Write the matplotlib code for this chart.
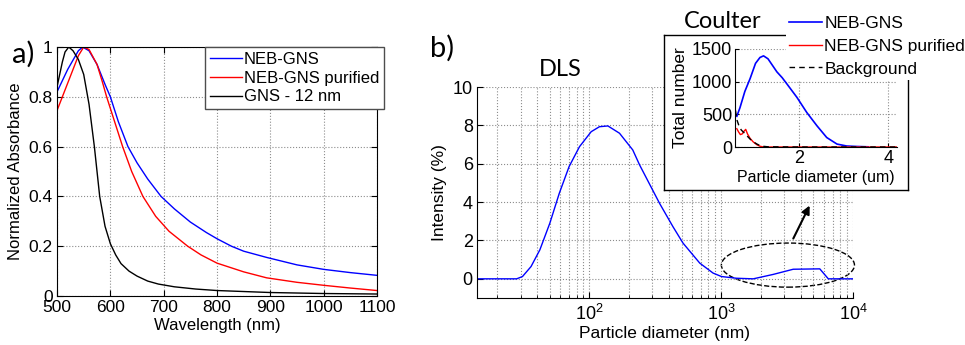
import numpy as np
import matplotlib
matplotlib.use('Agg')
import matplotlib.pyplot as plt
from matplotlib.patches import Ellipse

plt.rcParams['font.family'] = ['Liberation Sans', 'DejaVu Sans']
plt.rcParams['mathtext.fontset'] = 'custom'
plt.rcParams['mathtext.rm'] = 'Liberation Sans'
plt.rcParams['mathtext.it'] = 'Liberation Sans:italic'

# panel a - UV-vis absorbance
wl_blue = [500, 520, 540, 548, 560, 575, 590, 600, 615, 633, 650, 670, 695, 720, 750,
           780, 800, 827, 850, 893, 950, 1000, 1050, 1100]
abs_blue = [0.82, 0.91, 0.985, 1.0, 0.985, 0.93, 0.85, 0.80, 0.70, 0.60, 0.535, 0.47, 0.40,
            0.35, 0.297, 0.255, 0.23, 0.20, 0.18, 0.155, 0.125, 0.107, 0.094, 0.083]
wl_red = [500, 520, 540, 550, 560, 575, 585, 593, 608, 623, 640, 661, 685, 710, 745, 770,
          800, 850, 893, 950, 1000, 1050, 1100]
abs_red = [0.745, 0.855, 0.965, 1.0, 0.99, 0.93, 0.86, 0.80, 0.70, 0.60, 0.50, 0.40, 0.32,
           0.26, 0.20, 0.165, 0.132, 0.097, 0.073, 0.055, 0.043, 0.032, 0.022]
wl_black = [500, 505, 510, 515, 522, 530, 540, 550, 560, 570, 580, 590, 600, 610, 620, 635,
            650, 670, 690, 720, 760, 800, 900, 1000, 1100]
abs_black = [0.84, 0.89, 0.94, 0.98, 1.0, 0.985, 0.95, 0.89, 0.77, 0.60, 0.40, 0.28, 0.21,
             0.165, 0.13, 0.10, 0.08, 0.06, 0.048, 0.037, 0.028, 0.022, 0.014, 0.01, 0.008]
labels_a = ['NEB-GNS', 'NEB-GNS purified', 'GNS - 12 nm']

# panel b - DLS
dls_d = [14, 20, 28, 31, 36, 42, 50, 59, 70, 84, 103, 119, 138, 169, 213, 240, 340, 430,
         513, 687, 867, 1004, 1306, 1750, 2480, 3520, 5600, 6500, 10000]
dls_int = [0, 0, 0, 0.12, 0.64, 1.51, 2.9, 4.46, 5.85, 6.89, 7.67, 7.93, 7.97, 7.59, 6.72,
           5.94, 3.94, 2.72, 1.86, 0.82, 0.30, 0.12, 0.03, 0.0, 0.23, 0.5, 0.52, 0.0, 0.0]

# inset - Coulter counter
c_blue_x = [0.60, 0.67, 0.78, 0.90, 1.02, 1.12, 1.20, 1.30, 1.38, 1.50, 1.62, 1.72, 1.95,
            2.17, 2.40, 2.62, 2.85, 3.07, 3.30, 3.55]
c_blue_y = [470, 600, 850, 1050, 1280, 1370, 1395, 1350, 1270, 1150, 1060, 970, 760, 530,
            325, 145, 45, 15, 8, 3]
c_red_x = [0.60, 0.64, 0.68, 0.72, 0.76, 0.80, 0.84, 0.90, 0.97, 1.05, 1.12, 1.2, 2.0, 3.0, 4.2]
c_red_y = [280, 230, 190, 200, 240, 270, 200, 130, 77, 35, 12, 0, 0, 0, 0]
c_bg_x = [0.57, 0.60, 0.65, 0.70, 0.76, 0.83, 0.90, 0.97, 1.05, 1.12, 1.2, 1.3, 2.0, 3.0, 4.2]
c_bg_y = [560, 420, 320, 260, 220, 170, 120, 80, 46, 22, 10, 3, 0, 0, 0]
labels_c = ['NEB-GNS', 'NEB-GNS purified', 'Background']

grid_kw = dict(linestyle=':', color='0.55', linewidth=0.8)

fig = plt.figure(figsize=(9.65, 3.45), dpi=100)

# ---- a) ----
ax_a = fig.add_axes([0.0591, 0.1420, 0.3316, 0.7217])
ax_a.plot(wl_blue, abs_blue, color='b', lw=1.0, label=labels_a[0])
ax_a.plot(wl_red, abs_red, color='r', lw=1.0, label=labels_a[1])
ax_a.plot(wl_black, abs_black, color='k', lw=1.0, label=labels_a[2])
ax_a.set_xlim(500, 1100)
ax_a.set_ylim(0, 1)
ax_a.set_xticks(range(500, 1101, 100))
ax_a.set_yticks([0, 0.2, 0.4, 0.6, 0.8, 1])
ax_a.set_yticklabels(['0', '0.2', '0.4', '0.6', '0.8', '1'])
ax_a.grid(True, **grid_kw)
ax_a.tick_params(direction='in', top=True, right=True, length=4, labelsize=12.5, pad=3)
ax_a.set_xlabel('Wavelength (nm)', fontsize=12, labelpad=2)
ax_a.set_ylabel('Normalized Absorbance', fontsize=12, labelpad=4)
leg_a = ax_a.legend(loc='upper right', bbox_to_anchor=(384 / 965, 1 - 47 / 345),
                    bbox_transform=fig.transFigure, fontsize=12, handlelength=1.9,
                    handletextpad=0.1, labelspacing=0.22, borderpad=0.3, borderaxespad=0,
                    fancybox=False, framealpha=1, edgecolor='0.3')
leg_a.get_frame().set_linewidth(1.0)
fig.text(23 / 965, 1 - 54 / 345, 'a)', fontsize=21, family='Lato', ha='center', va='center')

# ---- b) ----
ax_b = fig.add_axes([0.4943, 0.1362, 0.3896, 0.6116])
ax_b.semilogx(dls_d, dls_int, color='b', lw=1.0)
ax_b.set_xlim(14, 10000)
ax_b.set_ylim(-1, 10)
ax_b.set_yticks([0, 2, 4, 6, 8, 10])
ax_b.set_xticks([100, 1000, 10000])
ax_b.set_xticklabels(['$10^2$', '$10^3$', '$10^4$'])
ax_b.grid(True, which='both', axis='x', **grid_kw)
ax_b.grid(True, which='major', axis='y', **grid_kw)
ax_b.spines['top'].set_visible(False)
ax_b.spines['right'].set_visible(False)
ax_b.tick_params(which='both', direction='in', labelsize=13)
ax_b.tick_params(which='major', length=4)
ax_b.tick_params(which='minor', length=2.5)
ax_b.tick_params(axis='x', pad=4)
ax_b.tick_params(axis='y', pad=3)
ax_b.set_xlabel('Particle diameter (nm)', fontsize=12.5, labelpad=2)
ax_b.set_ylabel('Intensity (%)', fontsize=12.5, labelpad=4)
ax_b.add_patch(Ellipse((0.827, 0.156), 0.354, 0.209, transform=ax_b.transAxes,
                       fill=False, ls='--', color='k', lw=1.0, clip_on=False))
ax_b.annotate('', xy=(0.888, 0.450), xytext=(0.838, 0.270), xycoords='axes fraction',
              arrowprops=dict(arrowstyle='-|>', color='k', lw=1.5, mutation_scale=12))
fig.text(442 / 965, 1 - 48 / 345, 'b)', fontsize=21, family='Lato', ha='center', va='center')
fig.text(560 / 965, 1 - 69 / 345, 'DLS', fontsize=17, family='Lato', ha='center', va='center')

# ---- inset ----
ax_box = fig.add_axes([0.6881, 0.4493, 0.2528, 0.4493])
ax_box.set_xticks([])
ax_box.set_yticks([])
for s in ax_box.spines.values():
    s.set_linewidth(1.0)

ax_c = fig.add_axes([0.7617, 0.5739, 0.1679, 0.2841])
ax_c.plot(c_blue_x, c_blue_y, color='b', lw=1.2, label=labels_c[0])
ax_c.plot(c_red_x, c_red_y, color='r', lw=1.0, label=labels_c[1])
ax_c.plot(c_bg_x, c_bg_y, color='k', lw=1.0, ls=(0, (4, 3)), label=labels_c[2])
ax_c.set_xlim(0.56, 4.2)
ax_c.set_ylim(0, 1500)
ax_c.set_xticks([2, 4])
ax_c.set_yticks([0, 500, 1000, 1500])
ax_c.grid(True, **grid_kw)
ax_c.spines['top'].set_visible(False)
ax_c.spines['right'].set_visible(False)
ax_c.tick_params(direction='in', length=3, labelsize=13, pad=2)
ax_c.set_xlabel('Particle diameter (um)', fontsize=11.5, labelpad=2)
ax_c.set_ylabel('Total number', fontsize=12.5, labelpad=3)
leg_c = ax_c.legend(loc='upper left', bbox_to_anchor=(786 / 965, 1 - 12 / 345),
                    bbox_transform=fig.transFigure, fontsize=12.5, handlelength=1.9,
                    handletextpad=0.1, labelspacing=0.45, borderpad=0.2, borderaxespad=0,
                    fancybox=False, framealpha=1, edgecolor='none')
fig.text(723 / 965, 1 - 21 / 345, 'Coulter', fontsize=17, family='Lato', ha='center', va='center')

fig.savefig('out.png', dpi=100)
